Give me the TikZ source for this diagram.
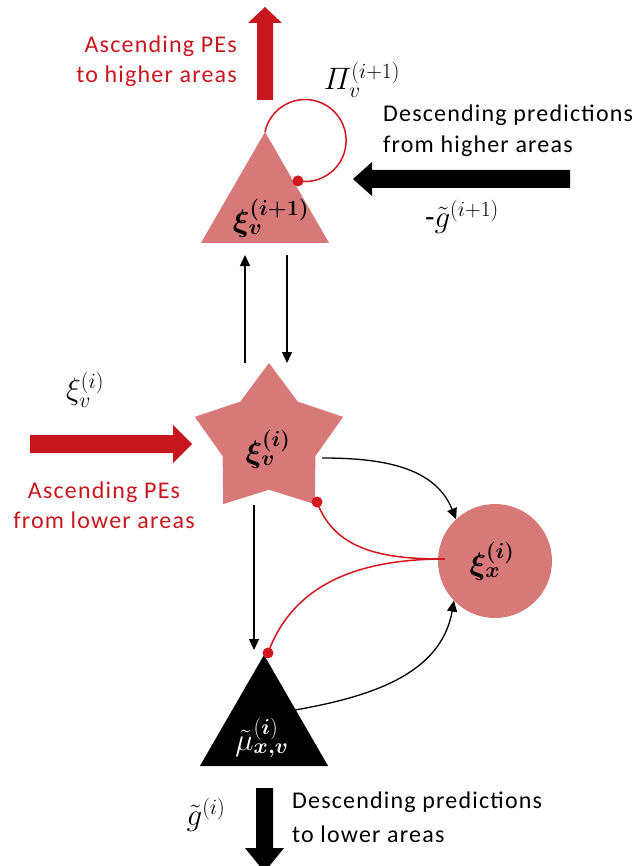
\RequirePackage{fix-cm}
\documentclass[tikz,border=0pt]{standalone}
\usepackage{amsmath,bm}
\usepackage{fontspec}
\setmainfont{Carlito}
\usetikzlibrary{shapes.geometric,arrows.meta,calc}
\definecolor{pinkfill}{RGB}{216,121,121}
\definecolor{redarrow}{RGB}{200,22,30}
\definecolor{redline}{RGB}{210,22,30}
\begin{document}
\begin{tikzpicture}[x=1pt,y=1pt,
  lbl/.style={font=\fontsize{24}{30}\selectfont\addfontfeature{LetterSpace=5}, inner sep=0, anchor=base west},
  mth/.style={font=\fontsize{31}{36}\selectfont, inner sep=0},
  thinarrow/.style={line width=1.3pt, -{Triangle[length=11pt,width=10pt]}},
  redcurve/.style={draw=redline, line width=1.5pt},
  reddot/.style={fill=redline},
  blackcurve/.style={line width=1.3pt, -{Triangle[length=11pt,width=10pt]}},
  tri/.style={regular polygon, regular polygon sides=3, minimum size=148pt, inner sep=0pt, outer sep=0pt}
]
\useasboundingbox (0,0) rectangle (640,-866);

% shapes
\node[tri, fill=pinkfill] (T1) at (265,-206) {};
\node[star, star points=5, star point ratio=1.6, minimum size=156pt, inner sep=0pt, outer sep=0pt, fill=pinkfill] (S) at (269,-441) {};
\node[circle, minimum size=114pt, inner sep=0pt, outer sep=0pt, fill=pinkfill] (C) at (495,-561) {};
\node[tri, fill=black] (T2) at (264,-729) {};

% texts inside
\node[mth] (t1txt) at (271,-218) {$\bm{\xi_{v}^{(i+1)}}$};
\node[mth] (stxt) at (268,-449) {$\bm{\xi_{v}^{(i)}}$};
\node[mth] (ctxt) at (492,-561) {$\bm{\xi_{x}^{(i)}}$};
\node[mth, text=white] (t2txt) at (262,-738) {$\tilde{\mu}_{\bm{x,v}}^{(\bm{i})}$};

% thick arrows
\fill[redarrow] (257,-100) -- (257,-23) -- (248,-23) -- (265,-7) -- (282,-23) -- (273,-23) -- (273,-100) -- cycle;
\fill[black] (570,-170) -- (372,-170) -- (372,-162) -- (353,-179) -- (372,-196) -- (372,-188) -- (570,-188) -- cycle;
\fill[redarrow] (30,-435) -- (173,-435) -- (173,-425) -- (192,-444) -- (173,-463) -- (173,-453) -- (30,-453) -- cycle;
\fill[black] (256,-788) -- (256,-848) -- (245,-848) -- (264.5,-872) -- (284,-848) -- (273,-848) -- (273,-788) -- cycle;

% self loop
\draw[redcurve] (T1.corner 1) arc[start angle=168, end angle=-100, radius=41] coordinate (d1);
\fill[reddot] (d1) circle (5.5);

% thin vertical arrows
\draw[thinarrow] ($(S.center)+(-24,78)$) -- ($(T1.south)+(-20,-12)$);
\draw[thinarrow] ($(T1.south)+(22,-12)$) -- ($(S.center)+(18,78)$);
\draw[thinarrow] ($(S.center)+(-15,-64)$) -- ($(T2.corner 1)+(-10,5)$);

% black curves
\draw[blackcurve] ($(S.center)+(53,-17)$) to[out=0,in=112] (C.133);
\draw[blackcurve] ($(T2.center)+(31,19)$) to[out=10,in=-100] (C.224);

% red curves
\coordinate (cm) at ($(C.west)+(7,2)$);
\coordinate (d2) at ($(S.center)+(48,-61)$);
\coordinate (d3) at ($(T2.corner 1)+(4,2)$);
\draw[redcurve] (cm) to[out=180,in=-70] (d2);
\draw[redcurve] (cm) to[out=180,in=70] (d3);
\fill[reddot] (d2) circle (5.5);
\fill[reddot] (d3) circle (5.5);

% labels
\node[lbl, text=redarrow, anchor=base east] (a1) at (237,-53) {Ascending PEs};
\node[lbl, text=redarrow, anchor=base east] (a2) at (237,-83) {to higher areas};
\node[lbl] (dh1) at (383,-122) {Descending predictions};
\node[lbl] (dh2) at (383,-153) {from higher areas};
\node[lbl, text=redarrow, anchor=base] (al1) at (104,-498) {Ascending PEs};
\node[lbl, text=redarrow, anchor=base] (al2) at (104,-528) {from lower areas};
\node[lbl] (dl1) at (292,-808) {Descending predictions};
\node[lbl] (dl2) at (292,-842) {to lower areas};

\node[mth] (pi) at (362,-80) {$\varPi_{v}^{(i+1)}$};
\node[mth] (gh) at (462,-217) {-$\tilde{g}^{(i+1)}$};
\node[mth] (xl) at (85,-390) {$\xi_{v}^{(i)}$};
\node[mth] (gl) at (206,-815) {$\tilde{g}^{(i)}$};
\end{tikzpicture}
\end{document}
